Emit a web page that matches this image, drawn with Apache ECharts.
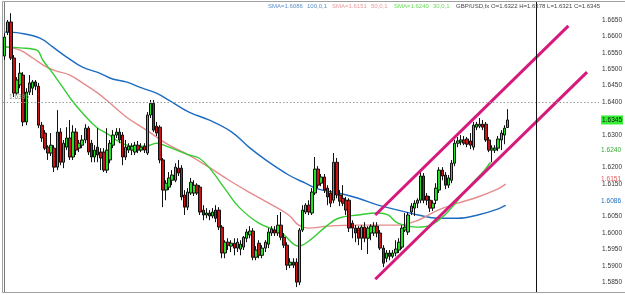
<!DOCTYPE html>
<html><head><meta charset="utf-8">
<script src="https://cdn.jsdelivr.net/npm/echarts@6/dist/echarts.min.js"></script>
<style>html,body{margin:0;padding:0;background:#fff;overflow:hidden}#c{width:625px;height:295px}</style>
</head><body><div id="c"></div><script>
// GBP/USD candles: [open, close, low, high]
const candles = [
[1.6540,1.6598,1.6528,1.6610],[1.6613,1.6644,1.6604,1.6650],[1.6644,1.6534,1.6528,1.6671],[1.6534,1.6427,1.6415,1.6543],
[1.6427,1.6467,1.6421,1.6476],[1.6452,1.6488,1.6442,1.6519],[1.6482,1.6339,1.6326,1.6491],[1.6339,1.6430,1.6329,1.6442],
[1.6430,1.6458,1.6421,1.6482],[1.6442,1.6461,1.6421,1.6467],[1.6461,1.6448,1.6436,1.6467],[1.6448,1.6329,1.6320,1.6458],
[1.6329,1.6290,1.6278,1.6339],[1.6305,1.6259,1.6253,1.6314],[1.6262,1.6244,1.6223,1.6268],[1.6244,1.6268,1.6235,1.6305],
[1.6259,1.6201,1.6186,1.6268],[1.6201,1.6308,1.6192,1.6375],[1.6308,1.6216,1.6207,1.6320],[1.6216,1.6274,1.6198,1.6284],
[1.6262,1.6290,1.6253,1.6323],[1.6290,1.6232,1.6223,1.6345],[1.6232,1.6308,1.6223,1.6329],[1.6308,1.6253,1.6238,1.6320],
[1.6259,1.6274,1.6247,1.6284],[1.6268,1.6284,1.6259,1.6299],[1.6284,1.6320,1.6274,1.6332],[1.6320,1.6247,1.6238,1.6326],
[1.6274,1.6232,1.6216,1.6284],[1.6232,1.6253,1.6216,1.6268],[1.6262,1.6238,1.6216,1.6320],[1.6247,1.6229,1.6192,1.6259],
[1.6247,1.6192,1.6186,1.6259],[1.6192,1.6253,1.6183,1.6320],[1.6223,1.6274,1.6213,1.6284],[1.6268,1.6299,1.6259,1.6314],
[1.6299,1.6308,1.6290,1.6320],[1.6308,1.6284,1.6274,1.6320],[1.6299,1.6232,1.6207,1.6308],[1.6232,1.6262,1.6223,1.6284],
[1.6253,1.6265,1.6244,1.6274],[1.6253,1.6265,1.6238,1.6274],[1.6247,1.6268,1.6238,1.6278],[1.6268,1.6253,1.6244,1.6281],
[1.6253,1.6262,1.6247,1.6274],[1.6265,1.6253,1.6244,1.6274],[1.6244,1.6360,1.6238,1.6369],[1.6360,1.6396,1.6351,1.6406],
[1.6396,1.6314,1.6308,1.6406],[1.6326,1.6305,1.6296,1.6339],[1.6323,1.6223,1.6213,1.6329],[1.6223,1.6131,1.6079,1.6229],
[1.6131,1.6152,1.6100,1.6161],[1.6140,1.6168,1.6131,1.6186],[1.6161,1.6177,1.6146,1.6192],[1.6161,1.6201,1.6155,1.6213],
[1.6198,1.6183,1.6174,1.6223],[1.6198,1.6110,1.6100,1.6207],[1.6116,1.6079,1.6055,1.6131],[1.6079,1.6125,1.6070,1.6137],
[1.6122,1.6155,1.6116,1.6168],[1.6122,1.6146,1.6113,1.6161],[1.6146,1.6122,1.6116,1.6152],[1.6140,1.6064,1.6055,1.6146],
[1.6070,1.6055,1.6039,1.6085],[1.6055,1.6061,1.6045,1.6076],[1.6061,1.6052,1.6039,1.6070],[1.6052,1.6064,1.6045,1.6076],
[1.6070,1.6045,1.6033,1.6085],[1.6070,1.6018,1.6009,1.6079],[1.6018,1.5939,1.5923,1.6024],[1.5939,1.5972,1.5923,1.5978],
[1.5972,1.5963,1.5948,1.5984],[1.5960,1.5969,1.5942,1.5978],[1.5969,1.5954,1.5932,1.5984],[1.5954,1.5972,1.5942,1.5984],
[1.5951,1.5966,1.5932,1.5978],[1.5957,1.5987,1.5948,1.5991],[1.5984,1.6003,1.5972,1.6012],[1.5994,1.6006,1.5984,1.6021],
[1.6006,1.5926,1.5917,1.6015],[1.5926,1.5948,1.5917,1.5960],[1.5969,1.5932,1.5923,1.5978],[1.5932,1.5954,1.5923,1.5963],
[1.5954,1.5972,1.5942,1.5978],[1.5966,1.6003,1.5954,1.6015],[1.6000,1.6012,1.5991,1.6021],[1.6009,1.6000,1.5991,1.6021],
[1.6000,1.6024,1.5991,1.6055],[1.6024,1.5987,1.5978,1.6064],[1.5987,1.5963,1.5954,1.6000],[1.5963,1.5902,1.5887,1.5972],
[1.5902,1.5911,1.5893,1.5923],[1.5911,1.5902,1.5893,1.5923],[1.5911,1.5850,1.5835,1.5923],[1.5850,1.6009,1.5841,1.6015],
[1.6009,1.6070,1.6003,1.6085],[1.6064,1.6085,1.6058,1.6091],[1.6085,1.6064,1.6055,1.6100],[1.6061,1.6125,1.6055,1.6137],
[1.6122,1.6195,1.6116,1.6232],[1.6195,1.6146,1.6137,1.6204],[1.6152,1.6171,1.6143,1.6180],[1.6171,1.6131,1.6122,1.6180],
[1.6137,1.6110,1.6085,1.6146],[1.6122,1.6091,1.6079,1.6131],[1.6100,1.6216,1.6091,1.6244],[1.6216,1.6116,1.6106,1.6229],
[1.6116,1.6097,1.6082,1.6131],[1.6106,1.6091,1.6082,1.6146],[1.6100,1.6070,1.6055,1.6110],[1.6100,1.6015,1.6003,1.6106],
[1.6030,1.6015,1.5984,1.6039],[1.6015,1.6000,1.5972,1.6024],[1.6015,1.5984,1.5963,1.6021],[1.5984,1.6018,1.5948,1.6024],
[1.6018,1.5984,1.5972,1.6033],[1.5984,1.6015,1.5936,1.6021],[1.6000,1.6021,1.5978,1.6027],[1.6000,1.6021,1.5991,1.6033],
[1.6021,1.6000,1.5987,1.6033],[1.6000,1.5954,1.5948,1.6009],[1.5954,1.5908,1.5896,1.5963],[1.5923,1.5939,1.5911,1.5948],
[1.5939,1.5929,1.5917,1.5948],[1.5929,1.5939,1.5923,1.5948],[1.5939,1.5951,1.5929,1.5978],[1.5948,1.5972,1.5939,1.5984],
[1.5957,1.6015,1.5951,1.6024],[1.6009,1.6018,1.6003,1.6061],[1.6003,1.6055,1.5994,1.6064],[1.6064,1.6082,1.6055,1.6091],
[1.6076,1.6091,1.6052,1.6100],[1.6091,1.6100,1.6076,1.6106],[1.6100,1.6174,1.6091,1.6186],[1.6174,1.6100,1.6091,1.6183],
[1.6113,1.6100,1.6085,1.6122],[1.6100,1.6076,1.6064,1.6113],[1.6076,1.6091,1.6067,1.6100],[1.6100,1.6137,1.6088,1.6152],
[1.6131,1.6192,1.6122,1.6201],[1.6192,1.6174,1.6161,1.6201],[1.6177,1.6146,1.6134,1.6186],[1.6146,1.6168,1.6137,1.6177],
[1.6161,1.6213,1.6152,1.6223],[1.6213,1.6274,1.6204,1.6284],[1.6274,1.6281,1.6262,1.6293],[1.6278,1.6284,1.6268,1.6299],
[1.6284,1.6274,1.6268,1.6296],[1.6287,1.6271,1.6262,1.6293],[1.6281,1.6268,1.6256,1.6305],[1.6262,1.6329,1.6253,1.6339],
[1.6323,1.6332,1.6314,1.6339],[1.6326,1.6332,1.6320,1.6351],[1.6332,1.6323,1.6314,1.6345],[1.6332,1.6284,1.6278,1.6339],
[1.6284,1.6253,1.6247,1.6293],[1.6253,1.6259,1.6216,1.6268],[1.6253,1.6259,1.6244,1.6268],[1.6259,1.6287,1.6250,1.6296],
[1.6284,1.6305,1.6253,1.6314],[1.6299,1.6320,1.6271,1.6329],[1.6322,1.6345,1.6321,1.6378]
];
const slotCount = 192;          // bars visible in the window (incl. empty future space)
const cursorBar = 171.3;        // vertical cursor line position (bar index)

// SMA readings [barIndex, value]
const sma100 = [[0,1.6613],[5,1.6610],[11.4,1.6595],[15.5,1.6568],[20,1.6537],[25.1,1.6506],[30.6,1.6488],[34.8,1.6470],[39.2,1.6461],[44.4,1.6442],[48.9,1.6427],[53,1.6405],[59.4,1.6369],[65.8,1.6345],[73.2,1.6308],[78.7,1.6262],[84.1,1.6223],[91.5,1.6177],[96.9,1.6152],[101.1,1.6134],[107.5,1.6122],[113.9,1.6106],[120.3,1.6085],[126.7,1.6070],[133.2,1.6055],[139.6,1.6045],[146,1.6045],[152.4,1.6055],[158.8,1.6073],[161.4,1.6085]];
const sma50 = [[0,1.6568],[5,1.6558],[9.1,1.6534],[13.6,1.6506],[16.8,1.6494],[21,1.6482],[25.1,1.6458],[29.6,1.6430],[32.8,1.6406],[39.2,1.6354],[45.7,1.6314],[53,1.6268],[59.4,1.6238],[65.8,1.6201],[72.3,1.6161],[78.7,1.6125],[85.1,1.6091],[91.5,1.6055],[94.7,1.6024],[97.9,1.6015],[104.3,1.6021],[113.9,1.6024],[126.7,1.6024],[133.2,1.6039],[139.6,1.6070],[146,1.6091],[152.4,1.6110],[158.8,1.6134],[161.4,1.6149]];
const sma30 = [[0,1.6568],[5,1.6565],[10.4,1.6558],[12.3,1.6528],[15.5,1.6488],[18.7,1.6445],[21.6,1.6406],[25.1,1.6366],[29.6,1.6323],[33.8,1.6299],[37,1.6278],[41.2,1.6265],[45.7,1.6265],[48.9,1.6274],[53,1.6262],[59.4,1.6238],[62.6,1.6229],[65.8,1.6201],[71.3,1.6131],[75.5,1.6079],[81.9,1.6030],[89.2,1.6000],[94.7,1.5960],[97.9,1.5975],[103.3,1.6018],[107.5,1.6045],[113.9,1.6055],[120.3,1.6061],[123.5,1.6055],[126.7,1.6030],[133.2,1.6018],[137.3,1.6024],[141.8,1.6055],[146,1.6100],[150.1,1.6146],[154.6,1.6192],[156.5,1.6216]];

// Channel trend lines [barIndex, price]
const upperChannel = [[119.4,1.6055],[181.6,1.6632]];
const lowerChannel = [[119.4,1.5859],[187.6,1.6491]];

const yTicks = [1.585,1.59,1.595,1.6,1.605,1.615,1.62,1.63,1.64,1.645,1.65,1.655,1.66,1.665];
const hLineLevel = 1.64, hLineText = '1.6395';
// right-edge price tags: [value, text colour, background]
const priceTags = [[1.6345,'#111','#33ee33'],[1.6240,'#33aa33',null],[1.6151,'#e05a5a',null],[1.6086,'#1d6cc1',null]];
const headerParts = [
  ['SMA=1.6086', 268, '#5b8fc9'], ['100,0,1', 307, '#5b8fc9'],
  ['SMA=1.6151', 332, '#e59a9a'], ['50,0,1', 371, '#e59a9a'],
  ['SMA=1.6240', 394, '#66dd55'], ['30,0,1', 433, '#66dd55'],
  ['GBP/USD,fx O=1.6322 H=1.6378 L=1.6321 C=1.6345', 456, '#444']
];

const FONT = 'Liberation Sans';
const cats = Array.from({length: slotCount}, (_, i) => String(i));
const chart = echarts.init(document.getElementById('c'), null, {renderer: 'canvas'});

chart.setOption({
  animation: false,
  backgroundColor: '#fff',
  grid: {left: 3, right: 23, top: 2, bottom: 3, show: false},
  xAxis: [
    {type: 'category', data: cats, boundaryGap: true, show: false},
    {type: 'value', min: -0.5, max: slotCount - 0.5, show: false}
  ],
  yAxis: {
    type: 'value', position: 'right', min: 1.582, max: 1.6705, scale: true,
    splitLine: {show: false},
    axisLine: {show: true, lineStyle: {color: '#777', width: 1}},
    axisTick: {show: false},
    axisLabel: {customValues: yTicks, formatter: v => v.toFixed(4), color: '#333', fontFamily: FONT, fontSize: 6.5, margin: 3}
  },
  series: [
    {type: 'line', xAxisIndex: 1, data: sma100, smooth: 0.4, showSymbol: false, lineStyle: {color: '#1d6cc1', width: 1.4}, z: 2},
    {type: 'line', xAxisIndex: 1, data: sma50, smooth: 0.4, showSymbol: false, lineStyle: {color: '#e58b8b', width: 1.4}, z: 2},
    {type: 'line', xAxisIndex: 1, data: sma30, smooth: 0.4, showSymbol: false, lineStyle: {color: '#33cc33', width: 1.4}, z: 2},
    {type: 'candlestick', data: candles, barWidth: 3, z: 3,
      itemStyle: {color: '#22e022', color0: '#c81414', borderColor: '#111', borderColor0: '#111', borderWidth: 1},
      markLine: {symbol: 'none', silent: true, animation: false, label: {show: false},
        data: [{yAxis: hLineLevel, lineStyle: {color: '#9a9a9a', type: [1.5, 2], width: 1}}]}},
    {type: 'line', xAxisIndex: 1, data: upperChannel, showSymbol: false, lineStyle: {color: '#d61a7c', width: 3}, z: 4},
    {type: 'line', xAxisIndex: 1, data: lowerChannel, showSymbol: false, lineStyle: {color: '#d61a7c', width: 3}, z: 4,
      markLine: {symbol: 'none', silent: true, label: {show: false},
        data: [{xAxis: cursorBar, lineStyle: {color: '#111', type: 'solid', width: 1}}]}}
  ]
});

// Frame, header, level label and price tags (positions taken through the axis scale)
const gfx = [];
gfx.push({id: 'frame', type: 'rect', shape: {x: 2.5, y: 1.5, width: 640, height: 291}, style: {fill: 'none', stroke: '#a0a0a0', lineWidth: 1}, z: 10});
headerParts.forEach(([t, x, c], i) => gfx.push({id: 'h' + i, type: 'text', x: x, y: 3, style: {text: t, fill: c, font: '6px ' + FONT}, z: 10}));
const yLvl = chart.convertToPixel({yAxisIndex: 0}, hLineLevel);
gfx.push({id: 'lvl', type: 'text', x: 9, y: yLvl - 1, style: {text: hLineText, fill: '#7f9f7f', font: '6.5px ' + FONT, verticalAlign: 'bottom'}, z: 10});
const axisX = chart.convertToPixel({xAxisIndex: 1}, slotCount - 0.5);
priceTags.forEach(([v, col, bg], i) => {
  const y = chart.convertToPixel({yAxisIndex: 0}, v);
  const st = {text: v.toFixed(4), fill: col, font: '6.5px ' + FONT, verticalAlign: 'middle', align: 'left'};
  if (bg) { st.backgroundColor = bg; st.padding = [1, 1]; }
  gfx.push({id: 'tag' + i, type: 'text', x: axisX + 2, y: bg ? y : y - 4, style: st, z: 20});
});
chart.setOption({graphic: gfx});
</script></body></html>
